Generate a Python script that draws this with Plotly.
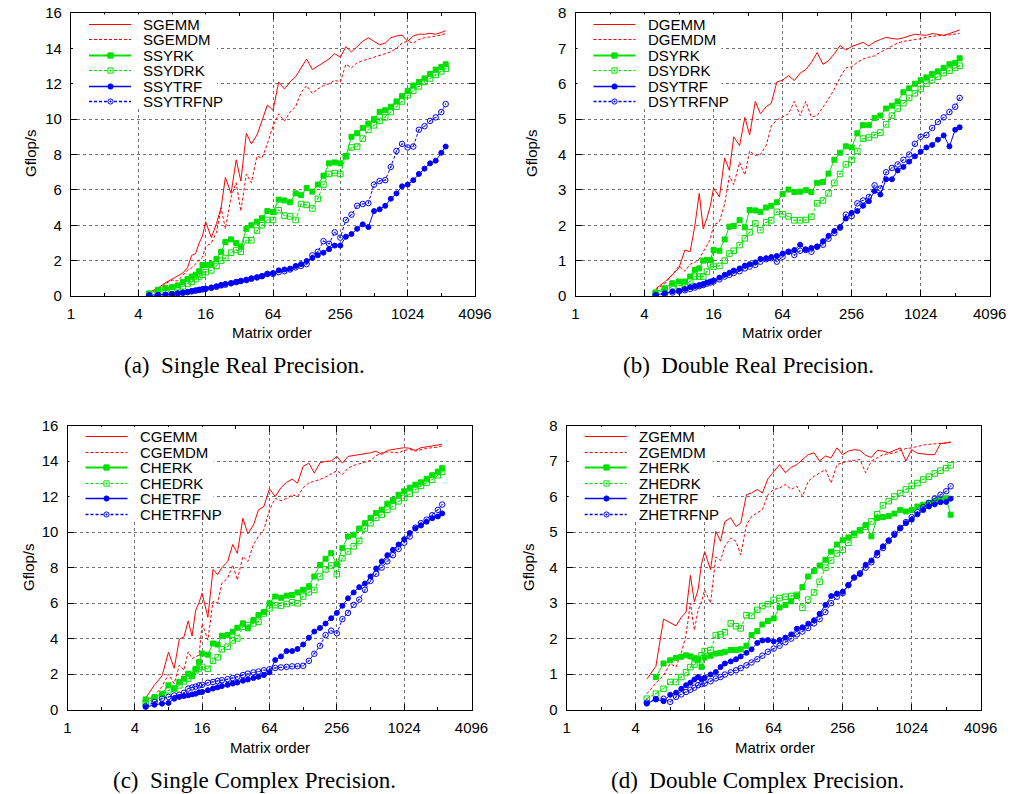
import math
import plotly.graph_objects as go

W, H = 1011, 794

# ---------------- data ----------------
matrix_order = [5, 6, 7, 8, 9, 10, 11, 12, 13, 14, 15, 16,
                18, 20, 22, 24, 27, 30, 33, 37, 41, 46, 51, 57,
                64, 72, 81, 91, 102, 114, 128, 144, 161, 181, 203, 228,
                256, 287, 322, 362, 406, 456, 512, 575, 645, 724, 813, 912,
                1024, 1149, 1290, 1448, 1625, 1825, 2048, 2240]

x_ticks = [1, 4, 16, 64, 256, 1024, 4096]
x_minor = [2, 8, 32, 128, 512, 2048]

# (a) single real
sgemm = [0.2,0.45,0.75,0.95,1.1,1.3,1.6,2.3,2.4,3.0,3.4,4.2, 3.3,4.1,5.0,6.7,5.8,7.7,6.5,9.2,8.6,9.1,9.9,10.8,
         10.5,12.1,11.7,12.1,12.4,12.9,13.4,12.8,13.0,13.2,13.4,13.7, 13.5,14.1,13.8,14.1,14.4,14.6,14.4,14.2,14.3,14.6,14.7,14.75,
         14.4,14.7,14.8,14.8,14.85,14.8,14.9,15.0]
sgemdm = [0.15,0.4,0.7,0.9,0.85,1.2,1.45,1.6,1.8,2.0,2.2,2.8, 3.0,3.6,5.0,3.8,5.6,6.4,4.8,6.9,6.4,7.9,7.8,8.6,
          9.6,10.3,9.9,10.4,10.7,11.5,11.9,11.45,11.7,11.9,12.0,12.2, 12.1,13.1,12.9,13.2,13.3,13.4,13.5,13.6,13.7,13.8,14.0,14.3,
          14.4,14.3,14.5,14.6,14.65,14.7,14.75,14.85]
ssyrk = [0.15,0.35,0.45,0.5,0.6,0.8,0.95,1.1,1.2,1.4,1.75,1.75, 1.8,2.1,2.5,3.05,3.2,3.0,2.8,3.8,4.0,4.2,4.4,4.8,
         4.75,5.45,5.4,5.3,5.8,5.7,6.1,5.9,6.3,6.8,7.5,7.55, 7.5,7.9,9.0,9.2,9.5,9.75,10.0,10.4,10.5,10.7,11.0,11.3,
         11.6,11.9,12.1,12.3,12.55,12.8,12.95,13.1]
ssydrk = [0.1,0.25,0.35,0.4,0.5,0.55,0.7,0.8,0.95,1.1,1.2,1.35, 1.45,1.7,2.0,2.15,2.45,2.6,2.5,3.15,3.15,3.7,4.0,4.3,
          4.3,4.85,4.55,4.5,4.3,5.2,5.15,4.95,5.5,6.3,6.9,6.95, 6.9,7.9,8.4,8.45,8.9,9.4,9.65,9.9,10.1,10.4,10.7,11.0,
          11.35,11.6,11.85,12.1,12.3,12.5,12.7,12.85]
ssytrf = [0.04,0.06,0.08,0.12,0.15,0.2,0.22,0.28,0.32,0.36,0.4,0.42, 0.48,0.55,0.62,0.68,0.72,0.8,0.85,0.92,1.0,1.05,1.12,1.25,
          1.3,1.45,1.5,1.55,1.7,1.8,1.98,2.15,2.3,2.45,2.65,2.85, 2.85,3.35,3.5,3.8,4.05,3.9,4.8,4.9,5.1,5.5,5.8,6.2,
          6.3,6.55,6.9,7.2,7.5,7.65,8.1,8.45]
ssytrfnp = [0.03,0.05,0.07,0.1,0.14,0.18,0.22,0.26,0.3,0.34,0.37,0.4, 0.46,0.52,0.6,0.64,0.72,0.78,0.85,0.9,0.97,1.05,1.12,1.25,
            1.25,1.35,1.4,1.5,1.62,1.7,1.8,2.3,2.5,3.1,2.95,3.6, 3.3,4.3,4.6,5.1,5.2,5.25,6.3,6.5,6.55,7.3,8.2,8.6,
            8.4,8.45,9.4,9.6,9.9,10.1,10.4,10.85]

# (b) double real
dgemm = [0.2,0.4,0.6,0.8,1.3,1.25,2.0,2.9,1.9,2.2,2.55,3.05, 2.8,3.9,3.55,4.5,4.25,5.05,4.55,5.5,5.15,5.35,5.45,6.05,
         6.1,6.23,6.09,6.3,6.4,6.6,6.88,6.55,6.65,6.85,7.08,6.95, 7.05,7.12,7.17,7.07,7.18,7.25,7.31,7.28,7.26,7.3,7.35,7.4,
         7.38,7.37,7.42,7.4,7.37,7.42,7.47,7.52]
dgemdm = [0.17,0.35,0.6,0.85,0.7,0.9,0.95,1.05,1.25,1.45,1.6,2.0, 2.1,2.6,3.4,3.15,3.78,3.42,4.1,3.97,4.0,4.25,4.8,4.98,
          5.06,5.15,5.5,5.1,5.5,5.06,5.1,5.34,5.57,5.85,6.18,6.45, 6.48,6.6,6.7,6.75,6.79,6.89,6.98,7.08,7.15,7.2,7.22,7.25,
          7.27,7.32,7.35,7.36,7.36,7.38,7.4,7.42]
dsyrk = [0.1,0.22,0.36,0.41,0.41,0.55,0.74,0.78,1.0,1.02,1.02,1.3, 1.28,1.6,1.96,1.98,2.15,1.94,2.43,2.42,2.38,2.5,2.55,2.65,
         2.88,3.01,2.94,2.95,2.99,2.94,3.2,3.22,3.46,3.85,4.05,4.23, 4.2,4.6,4.83,4.83,5.03,5.1,5.3,5.38,5.5,5.76,5.87,6.0,
         6.1,6.18,6.28,6.35,6.45,6.55,6.59,6.72]
dsydrk = [0.08,0.17,0.27,0.29,0.31,0.42,0.55,0.55,0.55,0.69,0.9,0.83, 0.85,1.0,1.2,1.28,1.44,1.63,1.8,2.05,1.86,2.08,2.14,2.38,
          2.31,2.25,2.14,2.14,2.15,2.24,2.62,2.7,2.9,3.2,3.45,3.72, 3.85,4.1,4.45,4.48,4.55,4.62,4.85,5.1,5.3,5.45,5.6,5.73,
          5.85,6.0,6.1,6.2,6.3,6.37,6.45,6.51]
dsytrf = [0.03,0.08,0.13,0.15,0.2,0.25,0.28,0.31,0.34,0.38,0.41,0.44, 0.52,0.6,0.66,0.72,0.78,0.86,0.9,0.95,1.05,1.07,1.1,1.13,
          1.2,1.25,1.3,1.45,1.32,1.36,1.4,1.55,1.7,1.84,1.95,2.19, 2.35,2.4,2.55,2.68,2.97,2.87,3.3,3.3,3.55,3.65,3.8,3.95,
          4.08,4.2,4.27,4.42,4.54,4.23,4.7,4.77]
dsytrfnp = [0.02,0.05,0.1,0.13,0.16,0.2,0.24,0.28,0.31,0.35,0.38,0.41, 0.47,0.55,0.6,0.65,0.7,0.78,0.83,0.88,0.97,1.04,1.07,0.97,
            1.11,1.25,1.16,1.28,1.3,1.25,1.39,1.45,1.62,1.78,1.93,2.3, 2.26,2.62,2.7,2.8,3.13,3.04,3.5,3.62,3.72,3.85,4.0,4.3,
            4.5,4.55,4.75,4.92,5.05,5.2,5.35,5.6]

# (c) single complex
cgemm = [0.65,1.4,1.9,3.24,2.33,3.97,4.1,5.0,4.15,5.6,6.03,6.56, 5.2,7.9,7.6,8.0,8.33,9.3,8.8,10.78,9.9,10.4,11.25,11.44,
         12.44,12.0,12.5,12.8,12.98,12.75,13.7,13.88,13.32,13.9,13.98,14.0, 14.26,13.88,14.26,14.3,14.37,14.4,14.46,14.56,14.37,14.6,14.65,14.66,
         14.75,14.72,14.6,14.75,14.78,14.85,14.9,14.95]
cgemdm = [0.43,0.8,1.3,2.0,1.47,2.5,2.22,3.26,2.88,3.0,3.07,4.86, 3.92,6.1,6.0,7.12,7.4,8.15,7.3,8.63,8.34,9.3,9.75,10.13,
          11.26,11.9,11.77,11.9,12.1,12.0,12.49,12.77,12.86,12.96,13.1,13.3, 13.45,13.24,13.6,13.75,13.85,13.95,14.03,14.3,14.46,14.52,14.5,14.46,
          14.6,14.65,14.56,14.65,14.71,14.75,14.78,14.85]
cherk = [0.58,0.72,0.9,1.37,1.19,1.56,1.75,2.03,1.94,2.3,2.69,3.16, 3.1,3.73,3.67,4.16,4.2,4.39,4.61,4.86,4.58,5.05,5.33,5.5,
         5.99,6.37,6.3,6.42,6.46,6.6,6.75,6.95,7.5,8.15,8.5,8.81, 8.19,9.1,9.75,9.85,10.2,10.5,10.8,11.07,11.26,11.6,11.8,12.1,
         12.3,12.5,12.67,12.8,13.0,13.2,13.4,13.6]
chedrk = [0.4,0.62,0.81,1.09,1.19,1.37,1.6,1.75,1.9,2.22,2.32,2.41, 2.3,2.75,2.95,3.4,3.55,3.9,4.01,4.67,4.76,4.86,4.95,5.42,
          5.71,5.89,5.86,5.95,6.05,5.99,6.37,6.61,6.74,7.5,7.9,8.12, 7.63,8.53,8.91,9.2,9.5,10.2,10.5,10.8,10.98,11.26,11.45,11.73,
          11.92,12.15,12.4,12.6,12.77,12.95,13.2,13.4]
chetrf = [0.15,0.28,0.34,0.38,0.62,0.72,0.77,0.81,0.86,0.9,0.98,1.0, 1.1,1.19,1.26,1.33,1.4,1.47,1.53,1.63,1.7,1.78,1.85,1.95,
          2.1,2.8,3.0,3.3,3.3,3.42,3.67,4.05,4.4,4.6,4.85,5.15, 5.45,5.85,6.27,6.6,6.9,7.1,7.5,7.95,8.35,8.7,9.0,9.3,
          9.6,9.95,10.2,10.37,10.58,10.78,10.88,11.05]
chetrfnp = [0.2,0.43,0.62,0.72,0.8,0.84,0.95,1.19,1.25,1.3,1.37,1.4, 1.52,1.56,1.62,1.66,1.72,1.78,1.85,1.95,2.03,2.1,2.15,2.22,
            2.28,2.35,2.38,2.41,2.44,2.45,2.47,2.75,3.15,3.6,4.2,4.45, 4.3,5.1,5.45,5.9,6.2,6.75,7.25,7.65,8.0,8.35,8.7,9.05,
            9.4,9.75,10.25,10.5,10.7,10.95,11.25,11.55]

# (d) double complex
zgemm = [0.86,1.22,2.55,2.45,2.36,2.6,2.75,3.78,3.04,3.37,4.1,4.45, 3.94,5.02,4.74,5.3,5.4,5.16,5.25,6.05,6.1,6.2,6.1,6.5,
         6.7,6.9,6.67,6.82,6.9,7.04,7.18,7.23,7.0,7.14,7.09,7.37, 7.18,7.28,7.32,7.3,7.16,7.1,7.3,7.28,7.23,7.3,7.37,7.0,
         7.32,7.22,7.19,7.18,7.18,7.49,7.51,7.54]
zgemdm = [0.45,0.75,0.97,1.3,1.2,1.6,2.1,3.0,2.24,2.8,3.04,3.37, 3.0,4.3,4.2,4.6,4.83,4.74,4.36,5.2,5.44,5.55,5.63,6.05,
          6.2,6.24,6.34,6.2,6.29,6.0,6.43,6.57,6.67,6.76,6.38,6.9, 6.95,7.0,7.02,7.04,6.67,7.0,7.09,7.18,7.2,7.23,7.3,7.35,
          7.37,7.42,7.45,7.47,7.48,7.49,7.51,7.52]
zherk = [None,0.92,1.3,1.39,1.46,1.49,1.53,1.5,1.45,1.42,1.2,1.47, 1.52,1.58,1.6,1.63,1.68,1.68,1.7,1.8,2.1,2.21,2.4,2.5,
         2.57,2.88,2.95,3.05,3.2,3.45,3.75,3.9,4.06,4.22,4.45,4.65, 4.77,4.85,4.96,5.05,5.2,4.88,5.4,5.42,5.45,5.52,5.62,5.58,
         5.62,5.72,5.77,5.82,5.87,5.9,5.95,5.49]
zhedrk = [0.31,0.45,0.59,0.78,0.78,0.92,1.05,1.2,1.27,1.4,1.53,1.65, 1.68,2.1,2.12,2.18,2.43,2.35,2.29,2.66,2.64,2.81,2.92,2.97,
          3.09,3.14,3.18,3.2,3.23,2.87,3.1,3.3,3.6,4.0,4.2,4.4, 4.5,4.7,4.92,5.05,5.15,5.3,5.5,5.75,5.87,6.0,6.1,6.2,
          6.3,6.38,6.48,6.56,6.65,6.73,6.8,6.88]
zhetrf = [0.17,0.29,0.24,0.42,0.48,0.59,0.69,0.76,0.85,0.92,0.86,0.9, 0.99,1.06,1.2,1.3,1.36,1.42,1.5,1.6,1.7,1.88,1.95,1.96,
          1.92,1.96,2.03,2.12,2.28,2.32,2.42,2.52,2.7,2.95,3.2,3.27, 3.32,3.5,3.72,3.82,4.08,4.2,4.42,4.6,4.77,4.92,5.1,5.25,
          5.35,5.5,5.62,5.72,5.78,5.84,5.85,5.94]
zhetrfnp = [0.2,0.3,0.31,0.22,0.36,0.43,0.5,0.56,0.62,0.69,0.72,0.74, 0.8,0.88,0.92,0.99,1.05,1.11,1.17,1.25,1.33,1.42,1.52,1.63,
            1.72,1.8,1.9,2.0,2.12,2.2,2.3,2.43,2.55,2.75,3.0,3.18, 3.28,3.51,3.72,3.84,4.0,4.15,4.35,4.55,4.75,4.95,5.12,5.28,
            5.42,5.56,5.7,5.82,5.95,6.05,6.15,6.29]

panel_names = [
    ["SGEMM", "SGEMDM", "SSYRK", "SSYDRK", "SSYTRF", "SSYTRFNP"],
    ["DGEMM", "DGEMDM", "DSYRK", "DSYDRK", "DSYTRF", "DSYTRFNP"],
    ["CGEMM", "CGEMDM", "CHERK", "CHEDRK", "CHETRF", "CHETRFNP"],
    ["ZGEMM", "ZGEMDM", "ZHERK", "ZHEDRK", "ZHETRF", "ZHETRFNP"],
]
panel_values = [
    [sgemm, sgemdm, ssyrk, ssydrk, ssytrf, ssytrfnp],
    [dgemm, dgemdm, dsyrk, dsydrk, dsytrf, dsytrfnp],
    [cgemm, cgemdm, cherk, chedrk, chetrf, chetrfnp],
    [zgemm, zgemdm, zherk, zhedrk, zhetrf, zhetrfnp],
]
captions = ["(a)  Single Real Precision.", "(b)  Double Real Precision.",
            "(c)  Single Complex Precision.", "(d)  Double Complex Precision."]
y_max = [16, 8, 16, 8]
y_step = [2, 1, 2, 1]

# ---------------- layout geometry (pixels) ----------------
boxes = [(71, 475, 13, 296), (575.5, 989.7, 13, 296),
         (67.5, 471.5, 425.5, 709.7), (566.7, 980.7, 425.5, 709.7)]
caption_pos = [(244, 365), (748, 365), (254, 780), (757, 780)]
xtitle_pos = [(272, 333), (782, 333), (270, 747), (775, 747)]
ytitle_pos = [(30, 153), (531, 153), (28, 567), (528, 567)]

RED, GREEN, BLUE = "#ff0000", "#00e000", "#0000ff"
DASH = "3px,2px"
styles = [
    dict(color=RED, dash="solid", marker=None, key_w=1),
    dict(color=RED, dash=DASH, marker=None, key_w=1),
    dict(color=GREEN, dash="solid", marker=("square", 5), key_w=2),
    dict(color=GREEN, dash=DASH, marker=("square-open-dot", 5.5), key_w=1.2),
    dict(color=BLUE, dash="solid", marker=("circle", 5), key_w=1.6),
    dict(color=BLUE, dash=DASH, marker=("circle-open-dot", 5.5), key_w=1.6),
]

SANS = "Liberation Sans, Arial, sans-serif"
SERIF = "Liberation Serif, Times New Roman, serif"

fig = go.Figure()
shapes = []
annotations = []
layout_axes = {}

for p in range(4):
    L, R, T, B = boxes[p]
    xa = "x" if p == 0 else f"x{p+1}"
    ya = "y" if p == 0 else f"y{p+1}"
    xkey = "xaxis" if p == 0 else f"xaxis{p+1}"
    ykey = "yaxis" if p == 0 else f"yaxis{p+1}"
    for s in range(6):
        st = styles[s]
        tr = dict(x=matrix_order, y=panel_values[p][s], name=panel_names[p][s],
                  xaxis=xa, yaxis=ya, showlegend=False,
                  line=dict(color=st["color"], width=1, dash=st["dash"]))
        if st["marker"] is None:
            tr["mode"] = "lines"
        else:
            sym, sz = st["marker"]
            tr["mode"] = "lines+markers"
            tr["marker"] = dict(symbol=sym, size=sz, color=st["color"],
                                line=dict(width=1, color=st["color"]))
        fig.add_trace(go.Scatter(**tr))

    common = dict(showline=True, linecolor="black", linewidth=1.2, mirror="allticks",
                  ticks="inside", ticklen=6, tickwidth=1, tickcolor="black",
                  showgrid=True, gridcolor="#707070", griddash="dot", gridwidth=1,
                  zeroline=False, automargin=False,
                  tickfont=dict(family=SANS, size=15, color="black"))
    layout_axes[xkey] = dict(common, type="log", domain=[L / W, R / W],
                             range=[0, math.log10(4096)], tickmode="array",
                             tickvals=x_ticks, ticktext=[str(v) for v in x_ticks],
                             anchor=ya, ticklabelstandoff=4,
                             minor=dict(tickmode="array", tickvals=x_minor, ticks="inside",
                                        ticklen=3, tickcolor="black", showgrid=False))
    layout_axes[ykey] = dict(common, domain=[1 - B / H, 1 - T / H], range=[0, y_max[p]],
                             tick0=0, dtick=y_step[p], anchor=xa, ticklabelstandoff=5)

    # legend (key) drawn in paper coordinates
    px = lambda v: v / W
    py = lambda v: 1 - v / H
    shapes.append(dict(type="rect", xref="paper", yref="paper", x0=px(L + 2), x1=px(L + 146),
                       y0=py(T + 94), y1=py(T + 1.5), fillcolor="white",
                       line=dict(width=0), layer="above"))
    for s in range(6):
        st = styles[s]
        ry = round(T + 11 + 15.4 * s) + 0.5
        shapes.append(dict(type="line", xref="paper", yref="paper", x0=px(L + 18), x1=px(L + 60),
                           y0=py(ry), y1=py(ry), layer="above",
                           line=dict(color=st["color"], width=st["key_w"], dash=st["dash"])))
        cx = round(L + 39) + 0.5
        if st["marker"] is not None:
            sym = st["marker"][0]
            r = 2.6
            kind = "rect" if sym.startswith("square") else "circle"
            filled = "open" not in sym
            shapes.append(dict(type=kind, xref="paper", yref="paper", x0=px(cx - r), x1=px(cx + r),
                               y0=py(ry + r), y1=py(ry - r), layer="above",
                               fillcolor=st["color"] if filled else "white",
                               line=dict(color=st["color"], width=1)))
            if not filled:
                shapes.append(dict(type="circle", xref="paper", yref="paper",
                                   x0=px(cx - 0.8), x1=px(cx + 0.8),
                                   y0=py(ry + 0.8), y1=py(ry - 0.8), layer="above",
                                   fillcolor=st["color"], line=dict(color=st["color"], width=0.5)))
        annotations.append(dict(text=panel_names[p][s], xref="paper", yref="paper",
                                x=px(L + 70), y=py(ry), xanchor="left", yanchor="middle",
                                showarrow=False, font=dict(family=SANS, size=15, color="black")))

    cxp, cyp = xtitle_pos[p]
    annotations.append(dict(text="Matrix order", xref="paper", yref="paper", x=cxp / W, y=1 - cyp / H,
                            xanchor="center", yanchor="middle", showarrow=False,
                            font=dict(family=SANS, size=15, color="black")))
    cxp, cyp = ytitle_pos[p]
    annotations.append(dict(text="Gflop/s", xref="paper", yref="paper", x=cxp / W, y=1 - cyp / H,
                            xanchor="center", yanchor="middle", showarrow=False, textangle=-90,
                            font=dict(family=SANS, size=15, color="black")))
    cxp, cyp = caption_pos[p]
    annotations.append(dict(text=captions[p], xref="paper", yref="paper", x=cxp / W, y=1 - cyp / H,
                            xanchor="center", yanchor="middle", showarrow=False,
                            font=dict(family=SERIF, size=23, color="black")))

fig.update_layout(width=W, height=H, autosize=False, margin=dict(l=0, r=0, t=0, b=0, autoexpand=False),
                  paper_bgcolor="white", plot_bgcolor="white",
                  shapes=shapes, annotations=annotations, showlegend=False, **layout_axes)

fig.write_html("out.html",
               config={"displayModeBar": False, "responsive": False},
               post_script=("document.documentElement.style.overflow='hidden';"
                            "document.body.style.overflow='hidden';"
                            "document.body.style.margin='0';document.body.style.padding='0';"))
